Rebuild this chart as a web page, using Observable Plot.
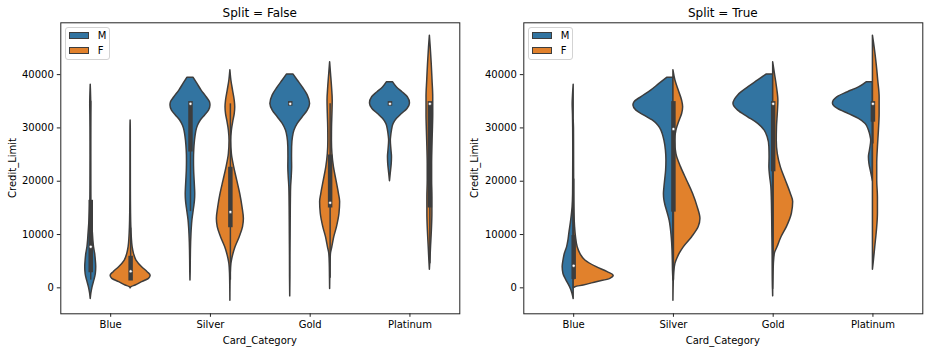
<!DOCTYPE html>
<html><head><meta charset="utf-8">
<script src="https://cdn.jsdelivr.net/npm/d3@7"></script>
<script src="https://cdn.jsdelivr.net/npm/@observablehq/plot@0.6"></script>
<style>
body{margin:0;background:#fff;font-family:"DejaVu Sans",sans-serif;color:#000;}
#wrap{position:relative;width:928px;height:352px;overflow:hidden;}
.panel{position:absolute;top:0;width:464px;height:352px;}
.t{position:absolute;white-space:nowrap;transform:translate(-50%,-50%);line-height:1;}
.title{font-size:12px;}
.lab{font-size:10px;}
.rot{transform:translate(-50%,-50%) rotate(-90deg);}
.legend{position:absolute;box-sizing:border-box;border:1px solid #d3d3d3;border-radius:3px;background:rgba(255,255,255,0.8);}
.sw{position:absolute;box-sizing:border-box;width:20px;height:7px;border:1px solid #3d3d3d;}
.ll{position:absolute;font-size:10px;line-height:1;transform:translateY(-50%);}
</style></head>
<body><div id="wrap"></div>
<script>
const categories = ["Blue","Silver","Gold","Platinum"];
const hues = ["M","F"];
const panelTitles = ["Split = False","Split = True"];
const xLabel = "Card_Category";
const yLabel = "Credit_Limit";
const yTicks = [0,10000,20000,30000,40000];

// density profiles: [Credit_Limit, relative density]
const blueM = [[-2100,0],[-1100,1.2],[100,3.6],[1400,7.3],[2600,10.2],[3900,11],[5100,10.2],[6400,8.8],[7600,6.6],[8800,5.3],[10100,4.4],[12600,2.5],[15100,1.1],[17500,0.6],[20000,0.5],[25000,0.4],[30000,0.5],[32500,0.7],[34500,1.0],[36000,0.7],[37000,0.4],[38100,0]];
const blueF = [[-100,0],[125,1.7],[440,10],[1060,23],[1690,36.7],[2250,40],[2940,34],[3875,23],[5125,11.7],[6375,6.7],[7625,4],[9500,2.3],[11375,1.4],[14000,0.8],[18000,0.5],[25000,0.4],[30000,0.3],[31400,0]];
const silverM = [[1400,0],[3000,0.4],[5000,0.6],[7000,0.9],[8500,1.3],[10100,2],[11300,2.7],[12600,3.8],[13500,5],[14500,6.5],[15500,8],[16400,9],[17600,9.5],[18800,9],[20100,8.3],[22000,7.3],[23900,7],[25750,7.5],[27600,9],[28700,10.5],[29500,12],[30400,15],[31400,20.7],[32300,29],[33250,37],[34200,40],[34800,39],[35750,32.3],[37000,22.3],[38250,14],[39400,6.3]];
const silverF = [[-2400,0],[0,0.2],[2600,0.7],[4500,2],[5500,4],[6400,6.3],[7600,10.3],[9500,18.7],[11400,25.3],[12900,27],[15100,24.3],[17600,19.7],[20100,13.7],[22600,7.7],[25100,3],[27600,1.7],[29500,3],[31400,6.3],[32600,8.7],[33900,9.7],[35100,8.7],[37000,5.3],[38900,2],[40800,0]];
const goldM = [[-1600,0],[2000,0.4],[6000,0.5],[10100,0.8],[13250,1],[16400,1.3],[18900,1.8],[20750,3],[22600,3.8],[24500,3.6],[26400,3.8],[28250,5.5],[29500,8.5],[30750,15],[32000,25],[33250,35],[34500,39.7],[36100,35],[37600,25],[38900,15],[40000,6.7]];
const goldF = [[-200,0],[2000,0.3],[4500,0.7],[6400,1.7],[7600,4.3],[9500,8.3],[11400,13.7],[13900,18.7],[16100,20],[17600,17.7],[20100,12.7],[22600,7.7],[25100,4.6],[27600,3.6],[30100,3.8],[32600,4.6],[35100,5.2],[37600,3.8],[40100,1.8],[42300,0]];
const platinumM = [[20000,0],[21400,1.5],[23250,3.5],[24500,4],[25750,3],[27600,1.7],[28500,2.5],[29500,4],[30750,7.3],[31700,14],[32600,24],[33560,35],[34600,40],[35750,35.7],[36700,25],[37600,14],[38560,6.3]];
const platinumF = [[3400,0],[5100,1],[7600,2.3],[10750,4],[13900,5],[17000,5],[20100,4.3],[23250,4.3],[26400,5],[29500,6],[32600,6.7],[35750,6.7],[38900,5.3],[42000,3.7],[45100,1.7],[47300,0]];

// inner box stats: [whisker low, q1, median, q3, whisker high]
const boxBlueM = [1450,3250,7700,16000,35000];
const boxBlueF = [1440,1700,3100,5500,11200];
const boxSilverM = [14300,25900,34516,34516,34516];
const boxSilverF = [1440,11700,14250,22200,34516];
const boxGoldM = [34516,34516,34516,34516,34516];
const boxGoldF = [1800,15400,15940,24500,34516];
const boxPlatinumM = [34516,34516,34516,34516,34516];
const boxPlatinumF = [4500,15400,34516,34516,34516];
// combined box stats (split)
const boxBlue = [1440,2000,4150,9375,20400];
const boxSilver = [1440,14625,29800,34516,34516];
const boxGold = [3700,22190,34516,34516,34516];
const boxPlatinum = [27000,31500,34516,34516,34516];

const profiles = {Blue:{M:blueM,F:blueF},Silver:{M:silverM,F:silverF},Gold:{M:goldM,F:goldF},Platinum:{M:platinumM,F:platinumF}};
const boxes = {Blue:{M:boxBlueM,F:boxBlueF},Silver:{M:boxSilverM,F:boxSilverF},Gold:{M:boxGoldM,F:boxGoldF},Platinum:{M:boxPlatinumM,F:boxPlatinumF}};
const splitBoxes = {Blue:boxBlue,Silver:boxSilver,Gold:boxGold,Platinum:boxPlatinum};

const gray = "#3d3d3d";
const colors = ["#3274a1","#e1812c"];
const k = 1/99.75;

function makePanel(split, mL, mR) {
  const marks = [];
  const boxRows = [];
  categories.forEach((c,i)=>{
    hues.forEach((h,j)=>{
      const rows = profiles[c][h].map(([v,d])=>({v,d}));
      let x1, x2;
      if (split) {
        x1 = j===0 ? (r=>i - r.d*k) : (r=>i);
        x2 = j===0 ? (r=>i) : (r=>i + r.d*k);
      } else {
        const cx = i + (j===0 ? -0.2 : 0.2);
        x1 = r=>cx - r.d*k/2; x2 = r=>cx + r.d*k/2;
      }
      marks.push(Plot.areaX(rows,{y:"v",x1,x2,fill:colors[j],stroke:gray,strokeWidth:1.5,curve:"monotone-y",strokeLinejoin:"round"}));
      if (!split) { const [lo,q1,med,q3,hi]=boxes[c][h]; boxRows.push({x:i+(j===0?-0.2:0.2),lo,q1,med,q3,hi}); }
    });
    if (split) { const [lo,q1,med,q3,hi]=splitBoxes[c]; boxRows.push({x:i,lo,q1,med,q3,hi}); }
  });
  marks.push(Plot.ruleX(boxRows,{x:"x",y1:"lo",y2:"hi",stroke:gray,strokeWidth:1.5}));
  marks.push(Plot.ruleX(boxRows,{x:"x",y1:"q1",y2:"q3",stroke:gray,strokeWidth:4.5,strokeLinecap:"square"}));
  marks.push(Plot.dot(boxRows,{x:"x",y:"med",r:1.5,fill:"white",stroke:gray,strokeWidth:0.5}));
  marks.push(Plot.frame({stroke:"#222",strokeWidth:1}));
  marks.push(Plot.axisX({ticks:[0,1,2,3],tickFormat:i=>categories[i],tickSize:3.5,tickPadding:3.5,label:null,stroke:"#222"}));
  marks.push(Plot.axisY({ticks:yTicks,tickFormat:d=>String(d),tickSize:3.5,tickPadding:3.5,label:null,stroke:"#222"}));
  return Plot.plot({
    width:464,height:352,marginLeft:mL,marginRight:mR,marginTop:22.3,marginBottom:38.7,
    x:{domain:[-0.5,3.5]},y:{domain:[-4870,49720]},
    style:{fontSize:"10px",fontFamily:"DejaVu Sans",color:"#000",background:"white",overflow:"visible"},
    marks
  });
}

const wrap = document.getElementById("wrap");
function addText(cls, txt, x, y) {
  const d = document.createElement("div"); d.className = "t " + cls; d.textContent = txt;
  d.style.left = x + "px"; d.style.top = y + "px"; wrap.appendChild(d); return d;
}
const panelsCfg = [{ox:0,mL:60.3,mR:4.7},{ox:464,mL:59.3,mR:5.7}];
panelsCfg.forEach((p,pi)=>{
  const holder = document.createElement("div"); holder.className="panel"; holder.style.left=p.ox+"px";
  holder.appendChild(makePanel(pi===1,p.mL,p.mR)); wrap.appendChild(holder);
  const L = p.ox + p.mL, R = p.ox + 464 - p.mR, cx = (L+R)/2;
  addText("title", panelTitles[pi], cx, 12.7);
  addText("lab", xLabel, cx, 340.5);
  addText("lab rot", yLabel, p.ox + (pi===0?12.5:10.5), 168);
  const lg = document.createElement("div"); lg.className="legend";
  lg.style.left=(L+5)+"px"; lg.style.top="27.3px"; lg.style.width="44.7px"; lg.style.height="32.7px";
  wrap.appendChild(lg);
  hues.forEach((h,j)=>{
    const sw = document.createElement("div"); sw.className="sw"; sw.style.background=colors[j];
    sw.style.left=(L+8.7)+"px"; sw.style.top=(32+15.3*j)+"px"; wrap.appendChild(sw);
    const ll = document.createElement("div"); ll.className="ll"; ll.textContent=h;
    ll.style.left=(L+37.4)+"px"; ll.style.top=(35.8+15.5*j)+"px"; wrap.appendChild(ll);
  });
});
</script></body></html>
